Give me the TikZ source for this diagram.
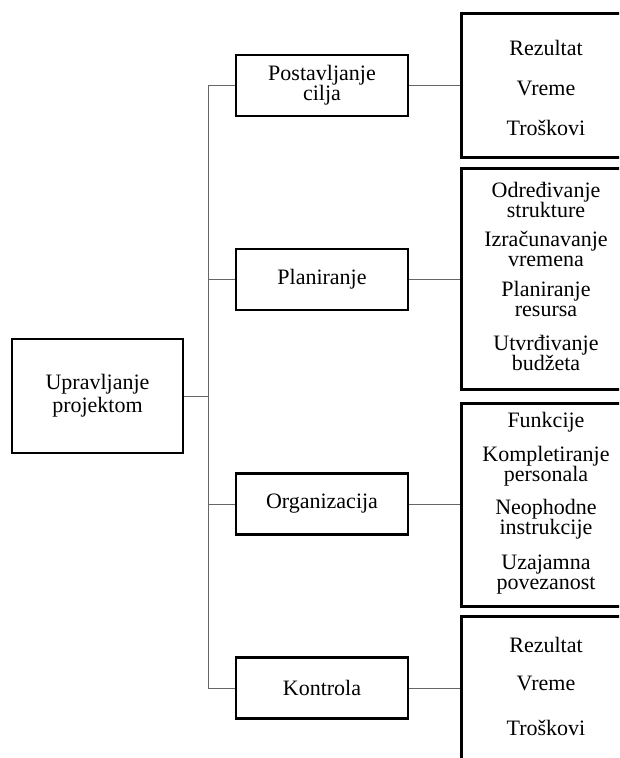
\documentclass[tikz,border=0pt]{standalone}
\usepackage{fontspec}
\setmainfont{Liberation Serif}
\begin{document}
\begin{tikzpicture}[x=1pt,y=-1pt,
  box/.style={draw, line width=2.6pt, inner sep=0pt},
  link/.style={draw=black!60, line width=0.9pt},
  txt/.style={font=\fontsize{22}{20}\selectfont, align=center, inner sep=0pt},
  midbox/.style={box, txt, minimum width=172pt, minimum height=61pt},
  rbox/.style={box, minimum width=200pt, anchor=north west},
]
\useasboundingbox (0,0) rectangle (619,758);
\clip (0,0) rectangle (619,758);
% main box
\node[box, txt, minimum width=171pt, minimum height=114pt] (main) at (97.5,396) {Upravljanje\\[3pt]projektom};
% middle boxes
\node[midbox] (m1) at (322,85.5) {Postavljanje\\cilja};
\node[midbox] (m2) at (322,279.5) {Planiranje};
\node[midbox] (m3) at (322,504) {Organizacija};
\node[midbox] (m4) at (322,688) {Kontrola};
% right boxes
\node[rbox, minimum height=144pt] (r1) at (460,12) {};
\node[rbox, minimum height=221pt] (r2) at (460,167) {};
\node[rbox, minimum height=203pt] (r3) at (460,402) {};
\node[rbox, minimum height=180pt] (r4) at (460,615) {};
% texts in right boxes
\node[txt] (r1a) at (546,48) {Rezultat};
\node[txt] (r1b) at (546,88) {Vreme};
\node[txt] (r1c) at (546,128) {Troškovi};
\node[txt] (r2a) at (546,200) {Određivanje\\strukture};
\node[txt] (r2b) at (546,249) {Izračunavanje\\vremena};
\node[txt] (r2c) at (546,299) {Planiranje\\resursa};
\node[txt] (r2d) at (546,353) {Utvrđivanje\\budžeta};
\node[txt] (r3a) at (546,422) {Funkcije};
\node[txt] (r3b) at (546,466) {Kompletiranje\\personala};
\node[txt] (r3c) at (546,519) {Neophodne\\instrukcije};
\node[txt] (r3d) at (546,575) {Uzajamna\\povezanost};
\node[txt] (r4a) at (546,645) {Rezultat};
\node[txt] (r4b) at (546,683) {Vreme};
\node[txt] (r4c) at (546,728) {Troškovi};
% connectors
\coordinate (sT) at (208,85.5);
\draw[link] (m1.west) -- (sT) -- (sT |- m4.west) -- (m4.west);
\draw[link] (main.east) -- (main.east -| sT);
\draw[link] (m2.west) -- (m2.west -| sT);
\draw[link] (m3.west) -- (m3.west -| sT);
\draw[link] (m1.east) -- (m1.east -| r1.west);
\draw[link] (m2.east) -- (m2.east -| r2.west);
\draw[link] (m3.east) -- (m3.east -| r3.west);
\draw[link] (m4.east) -- (m4.east -| r4.west);
\end{tikzpicture}
\end{document}
